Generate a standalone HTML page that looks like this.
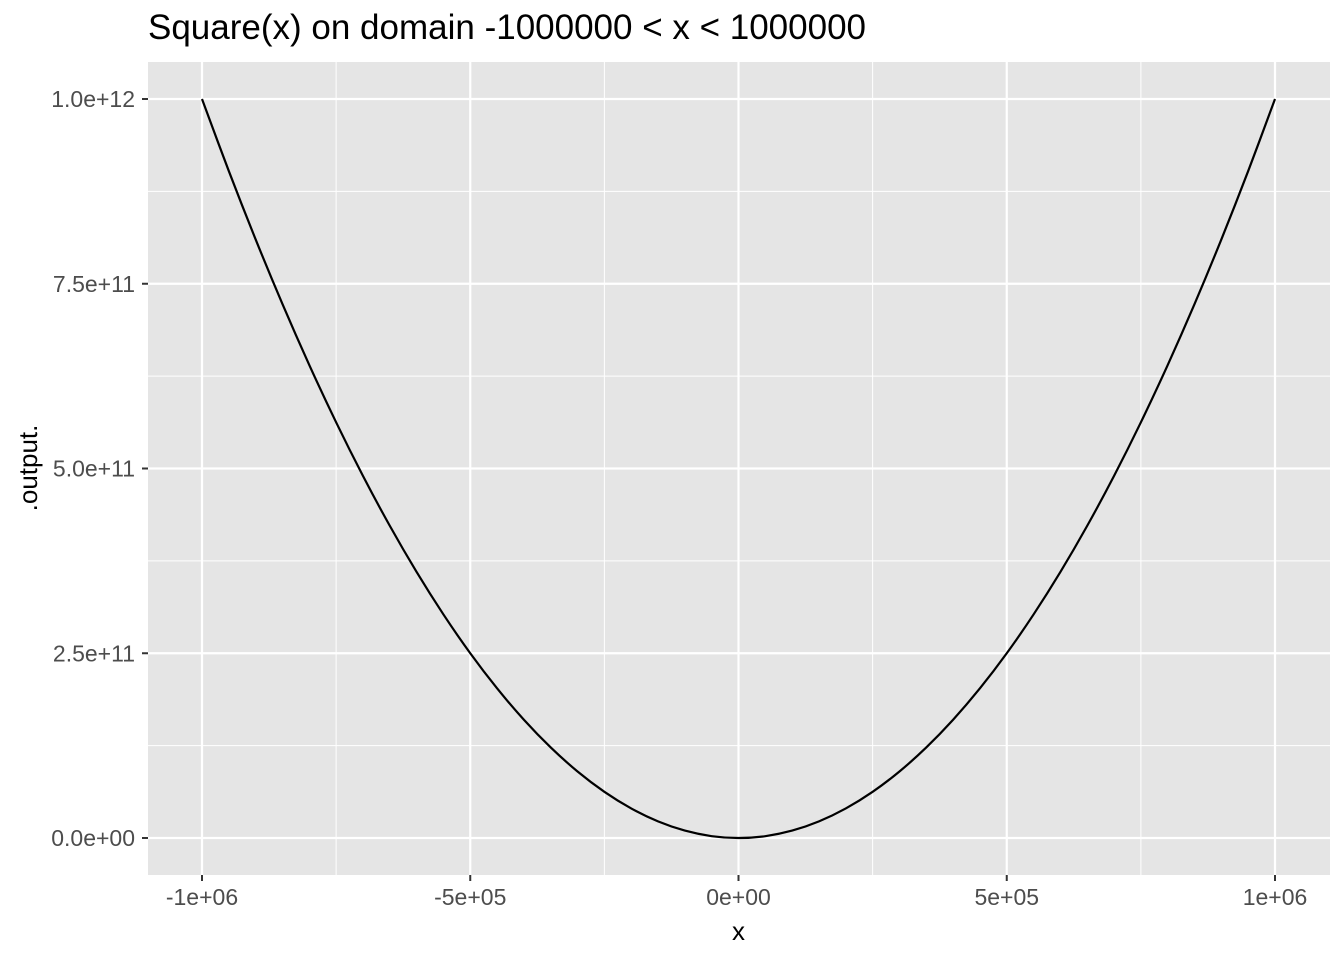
<!DOCTYPE html>
<html><head><meta charset="utf-8"><style>
body{margin:0;background:#fff;}
svg{display:block;font-family:"Liberation Sans",sans-serif;}
</style></head><body>
<svg id="chart" width="1344" height="960">
<text x="148" y="39" font-size="35" fill="#000">Square(x) on domain -1000000 &lt; x &lt; 1000000</text>
<rect x="148" y="62" width="1182" height="813" fill="#e5e5e5"/>
<g id="grid"></g><g id="axes"></g><g id="series"></g>
<text x="738.5" y="940" font-size="26" text-anchor="middle">x</text>
<text transform="translate(37,468) rotate(-90)" font-size="26" text-anchor="middle">.output.</text>
</svg>
<script>
const xValues=[-1000,-950,-900,-850,-800,-750,-700,-650,-600,-550,-500,-450,-400,-350,-300,-250,-200,-150,-100,-50,0,50,100,150,200,250,300,350,400,450,500,550,600,650,700,750,800,850,900,950,1000]; // thousands
const yValues=[1000,902.5,810,722.5,640,562.5,490,422.5,360,302.5,250,202.5,160,122.5,90,62.5,40,22.5,10,2.5,0,2.5,10,22.5,40,62.5,90,122.5,160,202.5,250,302.5,360,422.5,490,562.5,640,722.5,810,902.5,1000]; // billions
const xTicks=[-1000,-500,0,500,1000];
const xTickLabels=["-1e+06","-5e+05","0e+00","5e+05","1e+06"];
const yTicks=[0,250,500,750,1000];
const yTickLabels=["0.0e+00","2.5e+11","5.0e+11","7.5e+11","1.0e+12"];
const NS="http://www.w3.org/2000/svg";
const X=v=>738.5+v*(1275-202)/2000;
const Y=v=>838-v*(838-99)/1000;
const grid=document.getElementById('grid'),axes=document.getElementById('axes'),series=document.getElementById('series');
function mk(tag,attrs,parent){const e=document.createElementNS(NS,tag);for(const k in attrs)e.setAttribute(k,attrs[k]);parent.appendChild(e);return e;}
for(let i=0;i<xTicks.length-1;i++){const m=(xTicks[i]+xTicks[i+1])/2;
 const l=mk('line',{x1:X(m),x2:X(m),y1:62,y2:875,stroke:'#fff','stroke-width':1},grid);
 
 }
for(let i=0;i<yTicks.length-1;i++){const m=(yTicks[i]+yTicks[i+1])/2;
 const l=mk('line',{x1:148,x2:1330,y1:Y(m),y2:Y(m),stroke:'#fff','stroke-width':1},grid);
 
 }
xTicks.forEach((t,i)=>{
 const l=mk('line',{x1:X(t),x2:X(t),y1:62,y2:875,stroke:'#fff','stroke-width':2.2},grid);
 
 
 const tk=mk('line',{x1:X(t),x2:X(t),y1:875,y2:881,stroke:'#333','stroke-width':2},axes);
 
 
 const tx=mk('text',{x:X(t),y:905,'font-size':23,fill:'#4d4d4d','text-anchor':'middle'},axes);
 tx.textContent=xTickLabels[i];
 
 
});
yTicks.forEach((t,i)=>{
 const l=mk('line',{x1:148,x2:1330,y1:Y(t),y2:Y(t),stroke:'#fff','stroke-width':2.2},grid);
 
 
 const tk=mk('line',{x1:142,x2:148,y1:Y(t),y2:Y(t),stroke:'#333','stroke-width':2},axes);
 
 
 const tx=mk('text',{x:135,y:Y(t)+8,'font-size':23,fill:'#4d4d4d','text-anchor':'end'},axes);
 tx.textContent=yTickLabels[i];
 
 
});
const pts=xValues.map((x,i)=>[X(x),Y(yValues[i])]);
let d='M'+pts[0][0]+','+pts[0][1];
for(let i=0;i<pts.length-1;i++){const p0=pts[Math.max(0,i-1)],p1=pts[i],p2=pts[i+1],p3=pts[Math.min(pts.length-1,i+2)];
 d+=' C'+(p1[0]+(p2[0]-p0[0])/6)+','+(p1[1]+(p2[1]-p0[1])/6)+' '+(p2[0]-(p3[0]-p1[0])/6)+','+(p2[1]-(p3[1]-p1[1])/6)+' '+p2[0]+','+p2[1];}
const path=mk('path',{d:d,fill:'none',stroke:'#000','stroke-width':2.2},series);


</script>
</body></html>
